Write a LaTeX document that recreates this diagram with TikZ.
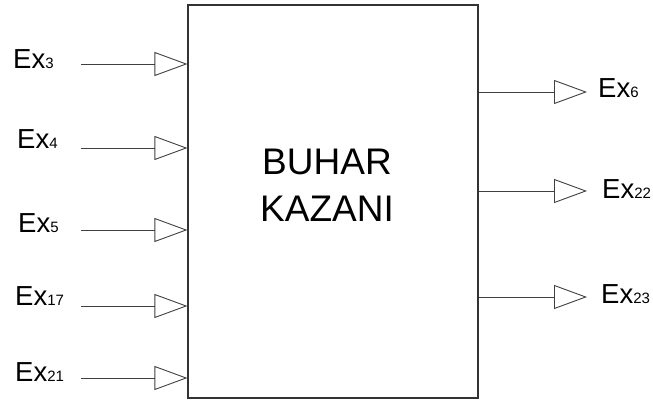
\documentclass[tikz,border=0pt]{standalone}
\usepackage{fontspec}
\setmainfont{Liberation Sans}
\usetikzlibrary{arrows.meta}
\begin{document}
\begin{tikzpicture}[x=1pt,y=-1pt,
  flow/.style={draw=black!75,line width=0.9pt,-{Triangle[open,length=33pt,width=24pt,line width=0.9pt]}},
  lbl/.style={font=\fontsize{27.5}{30}\selectfont,inner sep=0pt}]
\useasboundingbox (0,0) rectangle (653,404);
\node[draw=black!80,line width=1.2pt,minimum width=290pt,minimum height=393pt,inner sep=0pt] (box) at (333,201.5) {};
\node[font=\fontsize{37}{47}\selectfont,align=center] (title) at (327,185) {BUHAR\\KAZANI};
% inputs
\foreach \n/\y/\s/\lx/\b in {a/64/3/13/68,b/148/4/17/148,c/230/5/18/232,d/306/17/15/305,e/378/21/15/381}{
  \coordinate (s\n) at (81,\y);
  \coordinate (t\n) at (box.west |- s\n);
  \node[lbl,anchor=base west] (l\n) at (\lx,\b) {Ex{\fontsize{15}{17}\selectfont\s}};
  \draw[flow] (s\n) -- (t\n);
}
% outputs
\foreach \n/\y/\s/\lx/\b in {f/92/6/598/97,g/191/22/602/198,h/297/23/601/303}{
  \coordinate (s\n) at (box.east |- 0,\y);
  \coordinate (t\n) at (587,\y);
  \node[lbl,anchor=base west] (l\n) at (\lx,\b) {Ex{\fontsize{15}{17}\selectfont\s}};
  \draw[flow] (s\n) -- (t\n);
}
\end{tikzpicture}
\end{document}
